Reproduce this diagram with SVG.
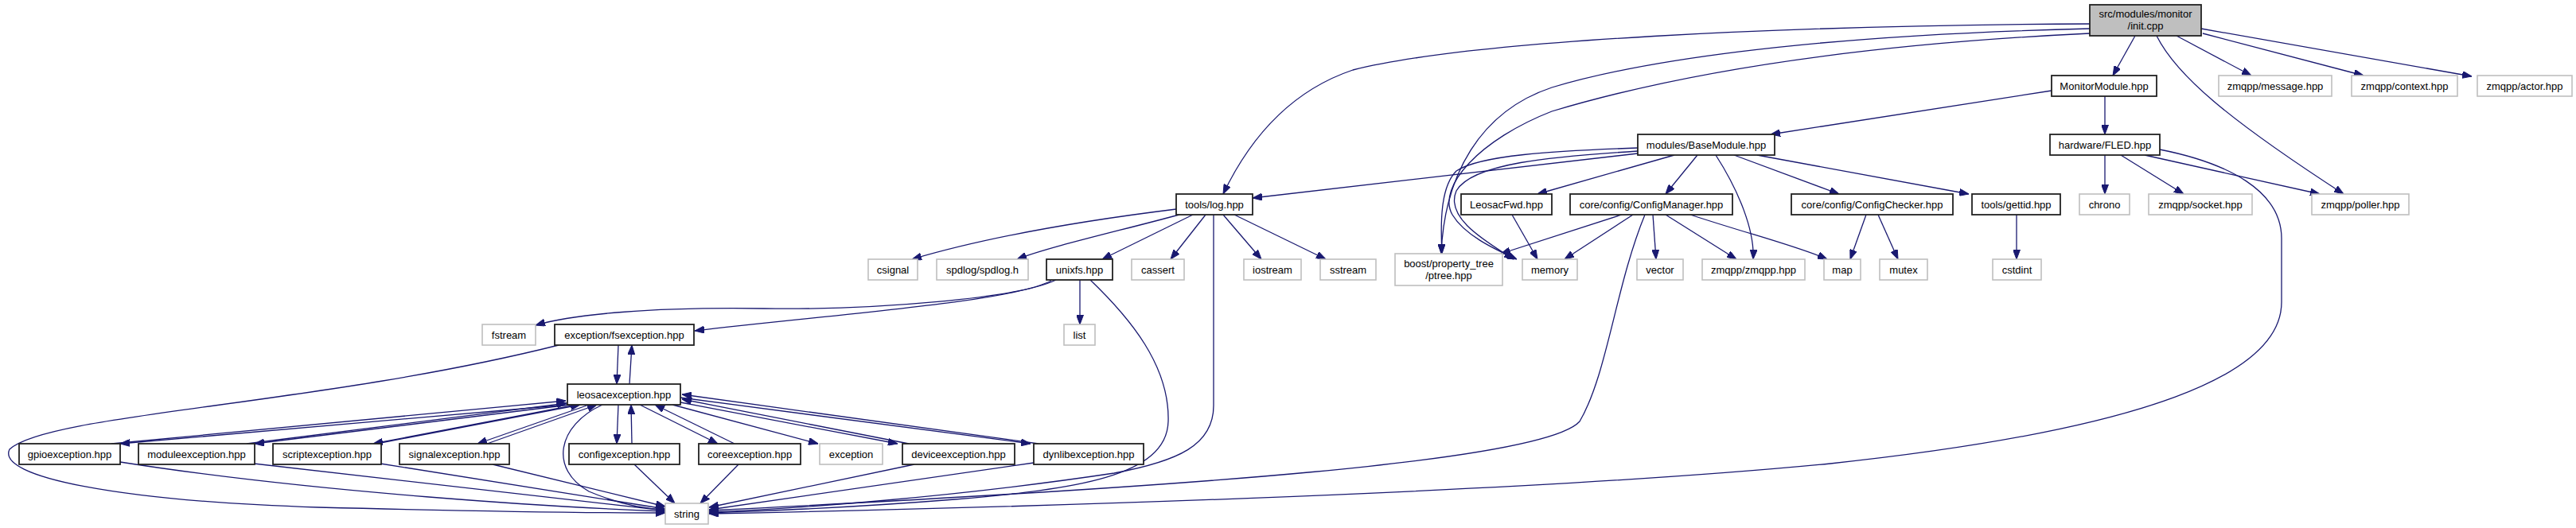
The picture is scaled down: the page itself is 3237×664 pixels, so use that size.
<svg xmlns="http://www.w3.org/2000/svg" width="3237" height="664" viewBox="0 0 3237 664">
<defs>
<marker id="a" viewBox="0 0 12 9" refX="12" refY="4.5" markerWidth="12" markerHeight="9" markerUnits="userSpaceOnUse" orient="auto"><path d="M0,0 L12,4.5 L0,9 z" fill="#191970" stroke="#191970" stroke-width="1"/></marker>
<style>
text{font-family:"Liberation Sans",Arial,sans-serif;font-size:13px;fill:#000;text-anchor:middle}
.k rect{fill:#fff;stroke:#222;stroke-width:1.8}
.g rect{fill:#fff;stroke:#bfbfbf;stroke-width:1.6}
.r rect{fill:#bfbfbf;stroke:#222;stroke-width:1.8}
#edges path{fill:none;stroke:#191970;stroke-width:1.3;marker-end:url(#a)}
</style>
</defs>
<rect width="3237" height="664" fill="#fff"/>
<g id="edges">
<path d="M2626,30 C2250,32 1850,50 1700,88 C1620,115 1570,175 1537,244"/>
<path d="M2683,45 L2655,95"/>
<path d="M2626,36 C2250,45 2050,80 1950,110 C1860,140 1815,220 1811,319"/>
<path d="M2626,42 C2250,60 2050,110 1950,140 C1860,175 1805,235 1825,270 C1840,295 1875,312 1906,326"/>
<path d="M2735,45 L2829,95"/>
<path d="M2768,42 L2970,95"/>
<path d="M2766,36 L3106,96"/>
<path d="M2710,45 C2735,95 2800,150 2945,244"/>
<path d="M2578,114 L2225,169"/>
<path d="M2645,121 L2645,169"/>
<path d="M2058,193 L1574,249"/>
<path d="M2058,186 C1950,190 1860,195 1830,215 C1810,235 1810,280 1812,319"/>
<path d="M2058,190 C1950,197 1850,205 1830,240 C1815,275 1870,305 1902,326"/>
<path d="M2104,195 L1932,244"/>
<path d="M2133,195 L2093,244"/>
<path d="M2156,195 C2185,240 2205,290 2203,326"/>
<path d="M2179,195 L2311,244"/>
<path d="M2208,195 L2474,244"/>
<path d="M2645,195 L2645,244"/>
<path d="M2665,195 L2744,244"/>
<path d="M2695,195 L2915,244"/>
<path d="M2714,188 C2800,205 2867,240 2867,300 L2867,380 C2867,470 2700,540 2300,583 C1900,622 1200,640 891,646"/>
<path d="M2067,270 C2030,360 2020,470 1985,530 C1940,580 1500,612 891,642"/>
<path d="M2038,270 L1886,319"/>
<path d="M2052,270 L1966,326"/>
<path d="M2077,270 L2081,326"/>
<path d="M2093,270 L2182,326"/>
<path d="M2124,270 C2200,295 2260,310 2296,326"/>
<path d="M2345,270 L2325,326"/>
<path d="M2360,270 L2385,326"/>
<path d="M2534,270 L2534,326"/>
<path d="M1900,270 L1932,326"/>
<path d="M1478,263 C1300,285 1200,310 1146,326"/>
<path d="M1482,270 C1400,292 1320,310 1278,326"/>
<path d="M1499,270 L1385,326"/>
<path d="M1515,270 L1471,326"/>
<path d="M1525,270 L1525,510 C1525,560 1480,580 1400,595 C1200,625 1000,640 891,644"/>
<path d="M1537,270 L1585,326"/>
<path d="M1551,270 L1666,326"/>
<path d="M1327,352 C1280,375 1100,390 960,388 C820,386 720,395 673,409"/>
<path d="M1321,353 C1270,380 1050,395 873,416"/>
<path d="M1357,352 L1357,408"/>
<path d="M1370,352 C1420,400 1470,460 1468,530 C1466,600 1350,615 1200,628 C1050,640 950,643 891,645"/>
<path d="M777,434 L775,483"/>
<path d="M702,434 C400,510 60,520 12,565 C-5,600 150,630 400,638 C600,643 750,645 836,645"/>
<path d="M791,483 L794,434"/>
<path d="M713,509 L151,558"/>
<path d="M140,558 L711,504"/>
<path d="M716,509 L320,558"/>
<path d="M310,558 L712,507"/>
<path d="M725,509 L469,558"/>
<path d="M478,557 L729,509"/>
<path d="M740,509 L600,558"/>
<path d="M612,558 L750,509"/>
<path d="M757,509 C700,535 690,590 740,618 C780,635 810,640 836,641"/>
<path d="M777,509 L775,558"/>
<path d="M794,558 L793,509"/>
<path d="M804,509 L902,558"/>
<path d="M923,558 L823,509"/>
<path d="M845,509 L1028,558"/>
<path d="M855,506 L1128,558"/>
<path d="M1142,558 L857,502"/>
<path d="M855,500 L1295,558"/>
<path d="M1305,558 L857,496"/>
<path d="M151,581 C400,620 700,638 836,643"/>
<path d="M319,583 L836,642"/>
<path d="M478,583 L836,640"/>
<path d="M619,584 L836,637"/>
<path d="M797,584 L848,633"/>
<path d="M928,584 L880,633"/>
<path d="M1149,584 L891,638"/>
<path d="M1299,582 L891,641"/>
</g>
<g id="n_init" class="r"><rect x="2626" y="6" width="140" height="39"/><text x="2696" y="22">src/modules/monitor</text><text x="2696" y="37">/init.cpp</text></g>
<g id="n_monitormodule" class="k"><rect x="2578" y="95" width="132" height="26"/><text x="2644" y="112.5">MonitorModule.hpp</text></g>
<g id="n_message" class="g"><rect x="2788" y="95" width="142" height="26"/><text x="2859" y="112.5">zmqpp/message.hpp</text></g>
<g id="n_context" class="g"><rect x="2955" y="95" width="133" height="26"/><text x="3021.5" y="112.5">zmqpp/context.hpp</text></g>
<g id="n_actor" class="g"><rect x="3113" y="95" width="119" height="26"/><text x="3172.5" y="112.5">zmqpp/actor.hpp</text></g>
<g id="n_basemodule" class="k"><rect x="2058" y="169" width="172" height="26"/><text x="2144" y="186.5">modules/BaseModule.hpp</text></g>
<g id="n_fled" class="k"><rect x="2576" y="169" width="138" height="26"/><text x="2645" y="186.5">hardware/FLED.hpp</text></g>
<g id="n_log" class="k"><rect x="1478" y="244" width="96" height="26"/><text x="1526" y="261.5">tools/log.hpp</text></g>
<g id="n_leosacfwd" class="k"><rect x="1836" y="244" width="114" height="26"/><text x="1893" y="261.5">LeosacFwd.hpp</text></g>
<g id="n_configmanager" class="k"><rect x="1973" y="244" width="204" height="26"/><text x="2075" y="261.5">core/config/ConfigManager.hpp</text></g>
<g id="n_configchecker" class="k"><rect x="2251" y="244" width="203" height="26"/><text x="2352.5" y="261.5">core/config/ConfigChecker.hpp</text></g>
<g id="n_gettid" class="k"><rect x="2478" y="244" width="111" height="26"/><text x="2533.5" y="261.5">tools/gettid.hpp</text></g>
<g id="n_chrono" class="g"><rect x="2613" y="244" width="63" height="26"/><text x="2644.5" y="261.5">chrono</text></g>
<g id="n_socket" class="g"><rect x="2700" y="244" width="130" height="26"/><text x="2765" y="261.5">zmqpp/socket.hpp</text></g>
<g id="n_poller" class="g"><rect x="2905" y="244" width="122" height="26"/><text x="2966" y="261.5">zmqpp/poller.hpp</text></g>
<g id="n_csignal" class="g"><rect x="1091" y="326" width="62" height="26"/><text x="1122" y="343.5">csignal</text></g>
<g id="n_spdlog" class="g"><rect x="1177" y="326" width="115" height="26"/><text x="1234.5" y="343.5">spdlog/spdlog.h</text></g>
<g id="n_unixfs" class="k"><rect x="1315" y="326" width="83" height="26"/><text x="1356.5" y="343.5">unixfs.hpp</text></g>
<g id="n_cassert" class="g"><rect x="1422" y="326" width="66" height="26"/><text x="1455" y="343.5">cassert</text></g>
<g id="n_iostream" class="g"><rect x="1563" y="326" width="72" height="26"/><text x="1599" y="343.5">iostream</text></g>
<g id="n_sstream" class="g"><rect x="1659" y="326" width="70" height="26"/><text x="1694" y="343.5">sstream</text></g>
<g id="n_boost" class="g"><rect x="1753" y="319" width="135" height="40"/><text x="1820.5" y="336">boost/property_tree</text><text x="1820.5" y="351">/ptree.hpp</text></g>
<g id="n_memory" class="g"><rect x="1913" y="326" width="69" height="26"/><text x="1947.5" y="343.5">memory</text></g>
<g id="n_vector" class="g"><rect x="2057" y="326" width="58" height="26"/><text x="2086" y="343.5">vector</text></g>
<g id="n_zmqpp" class="g"><rect x="2139" y="326" width="129" height="26"/><text x="2203.5" y="343.5">zmqpp/zmqpp.hpp</text></g>
<g id="n_map" class="g"><rect x="2292" y="326" width="46" height="26"/><text x="2315" y="343.5">map</text></g>
<g id="n_mutex" class="g"><rect x="2362" y="326" width="60" height="26"/><text x="2392" y="343.5">mutex</text></g>
<g id="n_cstdint" class="g"><rect x="2504" y="326" width="61" height="26"/><text x="2534.5" y="343.5">cstdint</text></g>
<g id="n_fstream" class="g"><rect x="606" y="408" width="67" height="26"/><text x="639.5" y="425.5">fstream</text></g>
<g id="n_fsexception" class="k"><rect x="697" y="408" width="175" height="26"/><text x="784.5" y="425.5">exception/fsexception.hpp</text></g>
<g id="n_list" class="g"><rect x="1337" y="408" width="39" height="26"/><text x="1356.5" y="425.5">list</text></g>
<g id="n_leosacexception" class="k"><rect x="713" y="483" width="142" height="26"/><text x="784" y="500.5">leosacexception.hpp</text></g>
<g id="n_gpio" class="k"><rect x="24" y="558" width="127" height="26"/><text x="87.5" y="575.5">gpioexception.hpp</text></g>
<g id="n_module" class="k"><rect x="174" y="558" width="146" height="26"/><text x="247" y="575.5">moduleexception.hpp</text></g>
<g id="n_script" class="k"><rect x="343" y="558" width="136" height="26"/><text x="411" y="575.5">scriptexception.hpp</text></g>
<g id="n_signal" class="k"><rect x="502" y="558" width="138" height="26"/><text x="571" y="575.5">signalexception.hpp</text></g>
<g id="n_config" class="k"><rect x="715" y="558" width="139" height="26"/><text x="784.5" y="575.5">configexception.hpp</text></g>
<g id="n_core" class="k"><rect x="878" y="558" width="128" height="26"/><text x="942" y="575.5">coreexception.hpp</text></g>
<g id="n_exception" class="g"><rect x="1030" y="558" width="79" height="26"/><text x="1069.5" y="575.5">exception</text></g>
<g id="n_device" class="k"><rect x="1134" y="558" width="141" height="26"/><text x="1204.5" y="575.5">deviceexception.hpp</text></g>
<g id="n_dynlib" class="k"><rect x="1299" y="558" width="138" height="26"/><text x="1368" y="575.5">dynlibexception.hpp</text></g>
<g id="n_string" class="g"><rect x="836" y="633" width="54" height="26"/><text x="863" y="650.5">string</text></g>
</svg>
